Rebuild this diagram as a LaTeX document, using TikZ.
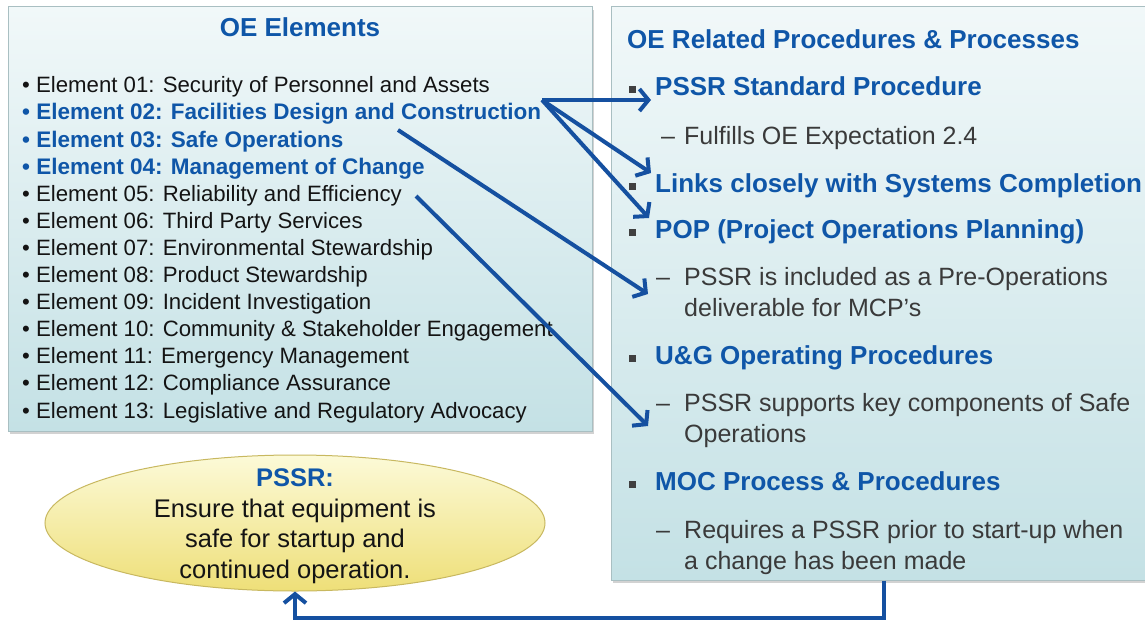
\documentclass[tikz,border=0pt]{standalone}
\usepackage{fontspec}
\setmainfont{Liberation Sans}
\usetikzlibrary{arrows.meta,shadows,shapes.geometric}
\definecolor{hblue}{HTML}{0F56A8}
\definecolor{ablue}{HTML}{1550A0}
\definecolor{txt}{HTML}{141414}
\definecolor{subtxt}{HTML}{3A3A3A}
\definecolor{boxline}{HTML}{A9BFC2}
\definecolor{boxtop}{HTML}{F1F8F9}
\definecolor{boxbot}{HTML}{C4E1E5}
\definecolor{elltop}{HTML}{FCFAD8}
\definecolor{ellbot}{HTML}{EEDF78}
\definecolor{ellline}{HTML}{C8B860}
\definecolor{bulletc}{HTML}{404040}
\begin{document}
\begin{tikzpicture}[x=1pt,y=-1pt,
  box/.style={draw=boxline, line width=1pt, top color=boxtop, bottom color=boxbot,
    drop shadow={shadow xshift=2pt,shadow yshift=-3pt,opacity=.35}, inner sep=0pt},
  lt/.style={anchor=base west, inner sep=0pt, font=\fontsize{22.2}{26}\selectfont, text=txt},
  lb/.style={anchor=base west, inner sep=0pt, font=\fontsize{22.5}{26}\selectfont\bfseries, text=hblue},
  head/.style={inner sep=0pt, font=\fontsize{26}{30}\selectfont\bfseries, text=hblue},
  rb/.style={anchor=base west, inner sep=0pt, font=\fontsize{26}{30}\selectfont\bfseries, text=hblue},
  rs/.style={anchor=base west, inner sep=0pt, font=\fontsize{25}{30}\selectfont, text=subtxt},
  et/.style={anchor=base, inner sep=0pt, font=\fontsize{25.5}{30}\selectfont, text=txt},
  sq/.style={fill=bulletc, minimum size=7pt, inner sep=0pt},
  link/.style={draw=ablue, line width=4pt, -{Straight Barb[length=9pt,width=22pt]}}
]
\useasboundingbox (0,0) rectangle (1145,623);
\clip (0,0) rectangle (1145,623);
\fill[white] (0,0) rectangle (1145,623);

% boxes
\node[box, minimum width=584pt, minimum height=424pt] (lbox) at (300,219) {};
\node[box, minimum width=546pt, minimum height=573pt] (rbox) at (884,293.5) {};
\node[ellipse, draw=ellline, line width=1pt, top color=elltop, bottom color=ellbot,
      minimum width=500pt, minimum height=136pt, inner sep=0pt] (ell) at (295,523) {};

% left box
\node[head, anchor=base] (lhead) at (300,37) {OE Elements};
\node[lt] (el01) at (22,93)  {\textbullet\ Element 01: Security of Personnel and Assets};
\node[lb] (el02) at (22,120) {\textbullet\ Element 02: Facilities Design and Construction};
\node[lb] (el03) at (22,147) {\textbullet\ Element 03: Safe Operations};
\node[lb] (el04) at (22,174) {\textbullet\ Element 04: Management of Change};
\node[lt] (el05) at (22,201) {\textbullet\ Element 05: Reliability and Efficiency};
\node[lt] (el06) at (22,228) {\textbullet\ Element 06: Third Party Services};
\node[lt] (el07) at (22,255.5) {\textbullet\ Element 07: Environmental Stewardship};
\node[lt] (el08) at (22,282.5) {\textbullet\ Element 08: Product Stewardship};
\node[lt] (el09) at (22,309.5) {\textbullet\ Element 09: Incident Investigation};
\node[lt] (el10) at (22,336.5) {\textbullet\ Element 10: Community \& Stakeholder Engagement};
\node[lt] (el11) at (22,363.5) {\textbullet\ Element 11: Emergency Management};
\node[lt] (el12) at (22,390.5) {\textbullet\ Element 12: Compliance Assurance};
\node[lt] (el13) at (22,418.5) {\textbullet\ Element 13: Legislative and Regulatory Advocacy};

% right box
\node[rb] (rhead) at (627,49) {OE Related Procedures \& Processes};
\node[sq] (b1) at (632,90) {};
\node[rb] (pssr) at (655,96) {PSSR Standard Procedure};
\node[rs] (d1) at (661,144) {–};
\node[rs] (ful) at (684,144) {Fulfills OE Expectation 2.4};
\node[sq] (b2) at (632,186) {};
\node[rb] (links) at (655,192) {Links closely with Systems Completion};
\node[sq] (b3) at (632,232) {};
\node[rb] (pop) at (655,238) {POP (Project Operations Planning)};
\node[rs] (d2) at (656,285) {–};
\node[rs] (inc1) at (684,285) {PSSR is included as a Pre-Operations};
\node[rs] (inc2) at (684,316) {deliverable for MCP’s};
\node[sq] (b4) at (632,358) {};
\node[rb] (ug) at (655,364) {U\&G Operating Procedures};
\node[rs] (d3) at (656,411) {–};
\node[rs] (sup1) at (684,411) {PSSR supports key components of Safe};
\node[rs] (sup2) at (684,442) {Operations};
\node[sq] (b5) at (632,484) {};
\node[rb] (moc) at (655,490) {MOC Process \& Procedures};
\node[rs] (d4) at (656,538) {–};
\node[rs] (req1) at (684,538) {Requires a PSSR prior to start-up when};
\node[rs] (req2) at (684,569) {a change has been made};

% ellipse text
\node[et, font=\fontsize{25.5}{30}\selectfont\bfseries, text=hblue] (et0) at (295,486) {PSSR:};
\node[et] (et1) at (295,517) {Ensure that equipment is};
\node[et] (et2) at (295,547) {safe for startup and};
\node[et] (et3) at (295,578) {continued operation.};

% connectors
\coordinate (s2) at (542,100);
\coordinate (t1) at (651,100);
\coordinate (t2) at (651,173);
\coordinate (t3) at (649,218);
\coordinate (s3) at (398,130);
\coordinate (t4) at (648,294);
\coordinate (s5) at (416,196);
\coordinate (t5) at (648,426);
\coordinate (fb) at (884,618);
\draw[link] (s2) -- (t1);
\draw[link] (s2) -- (t2);
\draw[link] (s2) -- (t3);
\draw[link] (s3) -- (t4);
\draw[link] (s5) -- (t5);
\draw[link] (rbox.south) -- (fb) -| (ell.south);
\end{tikzpicture}
\end{document}
